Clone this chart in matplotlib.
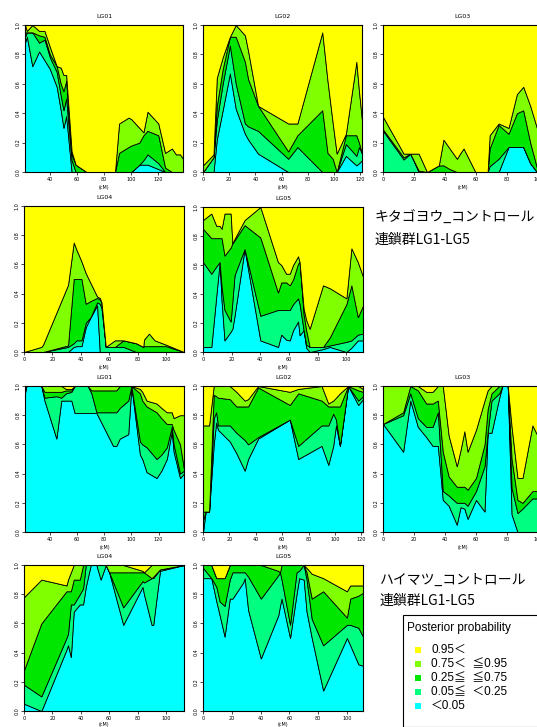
import matplotlib
matplotlib.use('Agg')
import matplotlib.pyplot as plt
from matplotlib.patches import Rectangle
import numpy as np

# layer colours, bottom to top: <0.05, 0.05-0.25, 0.25-0.75, 0.75-0.95, >0.95
COLORS = ['#00FFFF', '#00FF80', '#00E600', '#80FF00', '#FFFF00']
LEGEND_LABELS = ['0.95＜', '0.75＜  ≦0.95', '0.25≦  ≦0.75', '0.05≦  ＜0.25', '＜0.05']
LEGEND_COLORS = ['#FFFF00', '#80FF00', '#00E600', '#00FF80', '#00FFFF']

# --- キタゴヨウ (upper block) : cumulative boundaries b1..b4 ---
k1_x = [21.6, 23, 27, 32, 36, 40, 45, 48, 50, 52, 56, 59, 67, 88, 91, 98, 100, 106, 109, 112, 120, 125, 130, 133, 136, 138.2]
k1_b1 = [0.88, 0.92, 0.72, 0.82, 0.76, 0.70, 0.58, 0.42, 0.30, 0.38, 0, 0, 0, 0, 0, 0, 0, 0.05, 0.05, 0.05, 0.02, 0, 0, 0, 0, 0]
k1_b2 = [0.92, 0.95, 0.95, 0.88, 0.90, 0.78, 0.68, 0.52, 0.42, 0.50, 0.08, 0, 0, 0, 0, 0, 0, 0.05, 0.08, 0.12, 0.06, 0, 0, 0, 0, 0]
k1_b3 = [0.95, 0.95, 0.95, 0.93, 0.92, 0.80, 0.72, 0.60, 0.55, 0.62, 0.12, 0.05, 0, 0, 0.13, 0.17, 0.18, 0.20, 0.25, 0.28, 0.25, 0.03, 0, 0, 0, 0]
k1_b4 = [1.0, 0.96, 1.0, 0.96, 0.96, 0.85, 0.71, 0.71, 0.66, 0.66, 0.14, 0.05, 0, 0, 0.33, 0.37, 0.36, 0.30, 0.27, 0.41, 0.33, 0.13, 0.16, 0.12, 0.12, 0.09]

k2_x = [0, 8, 10.5, 15, 20.5, 25, 32, 34.5, 42, 65, 72, 91, 95, 99, 102, 109, 117, 119, 121.3]
k2_b1 = [0, 0, 0.22, 0.42, 0.67, 0.43, 0.26, 0.22, 0.125, 0, 0, 0, 0, 0, 0, 0.11, 0.045, 0.06, 0.08]
k2_b2 = [0, 0.10, 0.35, 0.60, 0.86, 0.60, 0.33, 0.31, 0.28, 0.09, 0.17, 0, 0, 0, 0, 0.19, 0.11, 0.17, 0.125]
k2_b3 = [0, 0.10, 0.45, 0.70, 0.92, 0.92, 0.75, 0.63, 0.45, 0.14, 0.25, 0.42, 0.13, 0.09, 0, 0.25, 0.25, 0.20, 0.10]
k2_b4 = [0.045, 0.12, 0.64, 0.78, 0.92, 1.0, 0.93, 0.82, 0.45, 0.33, 0.33, 0.95, 0.62, 0.33, 0.125, 0.26, 0.75, 0.55, 0.35]

k3_x = [0, 13.3, 17.6, 23, 28.4, 36, 39, 43, 47.7, 50, 52, 59.6, 67.5, 68.8, 74.6, 81, 86.4, 90.5, 95, 99.3, 102.6]
k3_b1 = [0, 0, 0, 0, 0, 0, 0, 0, 0, 0, 0, 0, 0, 0, 0, 0.17, 0.17, 0.17, 0.06, 0, 0]
k3_b2 = [0.28, 0.085, 0.125, 0, 0, 0, 0, 0, 0, 0, 0, 0, 0, 0.04, 0.09, 0.17, 0.17, 0.17, 0.06, 0, 0]
k3_b3 = [0.29, 0.10, 0.125, 0.01, 0, 0.045, 0.045, 0.02, 0, 0, 0, 0, 0, 0.16, 0.32, 0.26, 0.40, 0.42, 0.20, 0.03, 0]
k3_b4 = [0.375, 0.125, 0.125, 0.125, 0, 0.045, 0.22, 0.16, 0.09, 0.13, 0.16, 0, 0, 0.25, 0.33, 0.30, 0.53, 0.58, 0.45, 0.30, 0.25]

k4_x = [0, 12.2, 13.4, 31, 35, 37, 40.5, 43.5, 47, 51.5, 53.4, 54.6, 57.6, 64, 70, 79, 84, 84.5, 88, 92, 100, 112.7]
k4_b1 = [0, 0, 0, 0, 0.035, 0.04, 0.04, 0.17, 0.24, 0.32, 0, 0, 0, 0, 0, 0, 0, 0, 0, 0, 0, 0]
k4_b2 = [0, 0, 0, 0.035, 0.06, 0.08, 0.08, 0.20, 0.22, 0.34, 0.33, 0.30, 0.035, 0.035, 0.035, 0, 0, 0, 0, 0, 0, 0]
k4_b3 = [0, 0, 0, 0.045, 0.50, 0.50, 0.50, 0.33, 0.35, 0.37, 0.36, 0.34, 0.035, 0.035, 0.08, 0.06, 0.035, 0.04, 0.04, 0.04, 0.04, 0]
k4_b4 = [0, 0.035, 0.05, 0.46, 0.75, 0.70, 0.62, 0.54, 0.47, 0.38, 0.37, 0.34, 0.035, 0.08, 0.08, 0.06, 0.035, 0.085, 0.126, 0.08, 0.05, 0]

k5_x = [0, 5.8, 9.3, 11.6, 13, 15, 19.3, 20.5, 22, 29, 40, 52.3, 54.6, 58, 60.5, 62.8, 66.3, 67.4, 70.2, 72, 74.4, 83.7, 88.4, 100, 103.5, 108, 111.6]
k5_b1 = [0.035, 0.035, 0.39, 0.62, 0.35, 0.08, 0.14, 0.16, 0.25, 0.71, 0.08, 0.035, 0.12, 0.085, 0.08, 0.15, 0.21, 0.115, 0.15, 0.03, 0, 0.02, 0.035, 0, 0.03, 0.08, 0.08]
k5_b2 = [0.62, 0.54, 0.59, 0.62, 0.45, 0.29, 0.21, 0.35, 0.53, 0.71, 0.25, 0.29, 0.29, 0.29, 0.29, 0.33, 0.37, 0.33, 0.15, 0.05, 0.035, 0.035, 0.045, 0.07, 0.08, 0.12, 0.126]
k5_b3 = [0.85, 0.785, 0.785, 0.785, 0.785, 0.665, 0.72, 0.75, 0.77, 0.875, 0.79, 0.41, 0.48, 0.48, 0.46, 0.50, 0.61, 0.62, 0.26, 0.15, 0.035, 0.035, 0.10, 0.33, 0.46, 0.24, 0.32]
k5_b4 = [0.91, 0.955, 0.87, 0.87, 0.85, 0.955, 0.955, 0.75, 0.78, 0.91, 1.0, 0.62, 0.60, 0.54, 0.54, 0.60, 0.66, 0.62, 0.30, 0.22, 0.16, 0.46, 0.44, 0.37, 0.715, 0.62, 0.52]

# --- ハイマツ (lower block) ---
h1_x = [22, 23, 34, 36.3, 45, 48.6, 52, 56, 58.4, 68, 70.7, 74.4, 86.6, 89, 91.5, 97.7, 100, 106.3, 108, 111.2, 118.5, 122, 126, 129.6, 131, 135.7, 138.6]
h1_b1 = [0.95, 1.0, 1.0, 0.90, 0.64, 0.90, 0.90, 0.90, 0.815, 0.815, 0.815, 0.815, 0.59, 0.59, 0.64, 0.67, 1.0, 0.53, 0.50, 0.41, 0.37, 0.42, 0.50, 0.69, 0.55, 0.37, 0.40]
h1_b2 = [0.97, 1.0, 1.0, 0.92, 0.93, 0.92, 0.95, 0.96, 1.0, 1.0, 0.95, 0.82, 0.82, 0.82, 0.85, 0.90, 1.0, 0.62, 0.60, 0.58, 0.50, 0.53, 0.58, 0.72, 0.60, 0.40, 0.42]
h1_b3 = [0.98, 1.0, 1.0, 0.96, 0.96, 0.96, 0.97, 0.97, 1.0, 1.0, 0.97, 0.97, 0.97, 0.97, 1.0, 1.0, 1.0, 0.95, 0.90, 0.86, 0.82, 0.78, 0.74, 0.74, 0.70, 0.60, 0.43]
h1_b4 = [1.0, 1.0, 1.0, 1.0, 1.0, 1.0, 0.98, 0.98, 1.0, 1.0, 1.0, 1.0, 1.0, 1.0, 1.0, 1.0, 1.0, 0.98, 0.96, 0.90, 0.88, 0.85, 0.82, 0.82, 0.78, 0.80, 0.80]

h2_x = [0, 2, 4.6, 8.1, 10, 11.4, 20.3, 25.3, 31.6, 34.2, 41.8, 65.8, 72.2, 89.9, 95, 98.7, 100.8, 103.8, 110, 117.7, 121.3]
h2_b1 = [0, 0.14, 0.14, 0.60, 0.75, 0.70, 0.62, 0.54, 0.42, 0.50, 0.64, 0.77, 0.50, 0.59, 0.46, 0.59, 0.73, 0.59, 1.0, 0.87, 0.91]
h2_b2 = [0.08, 0.14, 0.14, 0.78, 0.82, 0.73, 0.73, 0.68, 0.63, 0.60, 0.65, 0.77, 0.59, 0.73, 0.73, 0.81, 0.77, 0.59, 1.0, 0.90, 0.93]
h2_b3 = [0.14, 0.14, 0.14, 0.94, 0.93, 0.92, 0.91, 0.86, 0.86, 0.86, 0.99, 0.87, 0.95, 0.90, 0.86, 0.86, 0.86, 0.86, 1.0, 0.97, 0.96]
h2_b4 = [0.73, 0.73, 0.73, 1.0, 1.0, 1.0, 1.0, 0.96, 0.90, 0.91, 1.0, 0.96, 0.98, 1.0, 0.88, 0.90, 0.92, 0.95, 1.0, 1.0, 0.98]

h3_x = [0, 13, 17.6, 22.5, 27.9, 32, 35.4, 38.6, 42.4, 47.6, 50, 52.5, 54.6, 60, 65.5, 67.5, 70, 75, 77, 80.5, 83, 86.8, 90, 96.4, 102.6]
h3_b1 = [0.74, 0.55, 0.90, 0.72, 0.65, 0.59, 0.59, 0.22, 0.18, 0.05, 0.17, 0.16, 0.09, 0.22, 0.14, 0.68, 0.68, 0.92, 1.0, 1.0, 0.12, 0, 0, 0, 0]
h3_b2 = [0.74, 0.80, 0.95, 0.78, 0.72, 0.72, 0.82, 0.28, 0.25, 0.20, 0.20, 0.20, 0.18, 0.28, 0.45, 0.68, 0.90, 0.95, 1.0, 1.0, 0.30, 0.13, 0.16, 0.23, 0.23]
h3_b3 = [0.74, 0.82, 1.0, 0.97, 0.88, 0.88, 0.90, 0.55, 0.38, 0.31, 0.31, 0.31, 0.29, 0.37, 0.60, 0.84, 0.95, 1.0, 1.0, 1.0, 0.50, 0.22, 0.20, 0.28, 0.28]
h3_b4 = [1.0, 1.0, 1.0, 1.0, 0.96, 0.96, 1.0, 1.0, 0.66, 0.45, 0.56, 0.69, 0.55, 0.70, 0.90, 0.97, 1.0, 1.0, 1.0, 1.0, 0.72, 0.37, 0.37, 0.73, 0.60]

h4_x = [0, 12.2, 29.9, 31, 33, 35, 39.3, 41.6, 43.5, 47, 51, 54, 57.6, 60, 69.9, 83.5, 84.5, 89.9, 91, 95.8, 112.7]
h4_b1 = [0.05, 0, 0.42, 0.45, 0.37, 0.68, 0.73, 0.73, 0.85, 1.0, 1.0, 0.90, 1.0, 0.95, 0.59, 0.85, 0.80, 0.59, 0.59, 0.96, 1.0]
h4_b2 = [0.18, 0.10, 0.50, 0.53, 0.73, 0.73, 0.80, 0.84, 1.0, 1.0, 1.0, 1.0, 1.0, 0.95, 0.71, 0.89, 0.88, 0.91, 0.91, 0.97, 1.0]
h4_b3 = [0.28, 0.60, 0.82, 0.82, 0.82, 0.90, 0.90, 1.0, 1.0, 1.0, 1.0, 1.0, 1.0, 0.95, 0.95, 0.95, 0.95, 0.91, 0.92, 0.97, 1.0]
h4_b4 = [0.78, 0.90, 0.86, 0.90, 0.95, 1.0, 1.0, 1.0, 1.0, 1.0, 1.0, 1.0, 1.0, 1.0, 1.0, 0.96, 0.95, 1.0, 1.0, 1.0, 1.0]

h5_x = [0, 5.8, 9.3, 11.6, 15, 18.6, 20.5, 27.9, 29, 31.4, 40.2, 52.3, 53.5, 54.6, 60.5, 65, 66.8, 70, 72, 75.6, 83.5, 100, 102.3, 108, 111.2]
h5_b1 = [0.91, 0.91, 0.75, 0.655, 0.51, 0.77, 0.77, 0.88, 0.91, 0.69, 0.36, 0.655, 0.72, 0.77, 0.50, 0.80, 0.91, 0.90, 0.68, 0.50, 0.14, 0.50, 0.45, 0.32, 0.31]
h5_b2 = [0.98, 0.91, 0.85, 0.75, 0.72, 0.90, 0.95, 0.95, 0.95, 0.92, 0.77, 0.93, 0.95, 0.90, 0.59, 0.95, 0.96, 1.0, 0.90, 0.63, 0.45, 0.59, 0.59, 0.57, 0.51]
h5_b3 = [1.0, 1.0, 0.91, 0.91, 0.91, 1.0, 1.0, 1.0, 1.0, 1.0, 1.0, 0.96, 0.95, 1.0, 1.0, 1.0, 1.0, 1.0, 0.95, 0.77, 0.82, 0.64, 0.77, 0.79, 0.81]
h5_b4 = [1.0, 1.0, 0.91, 0.91, 0.91, 1.0, 1.0, 1.0, 1.0, 1.0, 1.0, 1.0, 1.0, 1.0, 1.0, 1.0, 1.0, 1.0, 0.98, 0.94, 0.91, 0.82, 0.86, 0.86, 0.86]

W, H = 537, 727
fig = plt.figure(figsize=(W / 100, H / 100), dpi=100)
fig.patch.set_facecolor('white')


def px_axes(left, top, right, bottom):
    return fig.add_axes([left / W, 1 - bottom / H, (right - left) / W, (bottom - top) / H])


def panel(box, title, x, b1, b2, b3, b4, xlabelpad=2):
    ax = px_axes(*box)
    x = np.asarray(x, dtype=float)
    lo = np.zeros_like(x)
    bounds = [lo]
    for b in (b1, b2, b3, b4):
        lo = np.maximum(lo, np.asarray(b, dtype=float))
        bounds.append(lo)
    bounds.append(np.ones_like(x))
    for i in range(5):
        ax.fill_between(x, bounds[i], bounds[i + 1], facecolor=COLORS[i],
                        edgecolor='black', linewidth=0.6)
    ticks = [t for t in range(0, 141, 20) if x[0] <= t <= x[-1]]
    ax.set_xticks(ticks)
    ax.set_yticks([0, 0.2, 0.4, 0.6, 0.8, 1.0])
    ax.set_yticklabels(['0.0', '0.2', '0.4', '0.6', '0.8', '1.0'], rotation=90, va='center')
    ax.set_xlim(x[0], x[-1])
    ax.set_ylim(0, 1)
    ax.tick_params(labelsize=3.5, length=2, width=0.5, pad=1.5)
    for s in ax.spines.values():
        s.set_linewidth(0.8)
    ax.set_title(title, fontsize=4.5, pad=5)
    ax.set_xlabel('(cM)', fontsize=3.5, labelpad=xlabelpad)
    return ax


panel((25, 25, 183, 172), 'LG01', k1_x, k1_b1, k1_b2, k1_b3, k1_b4)
panel((203, 25, 362, 172), 'LG02', k2_x, k2_b1, k2_b2, k2_b3, k2_b4)
panel((383, 25, 542, 172), 'LG03', k3_x, k3_b1, k3_b2, k3_b3, k3_b4)
panel((24, 206, 184, 352), 'LG04', k4_x, k4_b1, k4_b2, k4_b3, k4_b4)
panel((203, 207, 363, 352), 'LG05', k5_x, k5_b1, k5_b2, k5_b3, k5_b4)

panel((25, 386, 184, 532), 'LG01', h1_x, h1_b1, h1_b2, h1_b3, h1_b4)
panel((203, 386, 363, 532), 'LG02', h2_x, h2_b1, h2_b2, h2_b3, h2_b4)
panel((383, 386, 542, 532), 'LG03', h3_x, h3_b1, h3_b2, h3_b3, h3_b4)
panel((24, 565, 184, 711), 'LG04', h4_x, h4_b1, h4_b2, h4_b3, h4_b4, xlabelpad=0.5)
panel((203, 565, 363, 711), 'LG05', h5_x, h5_b1, h5_b2, h5_b3, h5_b4, xlabelpad=0.5)

jp = ['Noto Sans CJK JP', 'DejaVu Sans']
fig.text(375 / W, 1 - 218 / H, 'キタゴヨウ_コントロール', family=jp, fontsize=10, va='center')
fig.text(375 / W, 1 - 240 / H, '連鎖群LG1-LG5', family=jp, fontsize=10, va='center')
fig.text(380 / W, 1 - 580 / H, 'ハイマツ_コントロール', family=jp, fontsize=10, va='center')
fig.text(380 / W, 1 - 601 / H, '連鎖群LG1-LG5', family=jp, fontsize=10, va='center')

# legend box
lg = ['Liberation Sans', 'Noto Sans CJK JP']
fig.patches.append(Rectangle((403 / W, 0), 140 / W, 1 - 615 / H, transform=fig.transFigure,
                             facecolor='white', edgecolor='black', linewidth=0.8))
fig.text(407 / W, 1 - 628 / H, 'Posterior probability', family=lg, fontsize=8.5, va='center')
for i, (lab, col) in enumerate(zip(LEGEND_LABELS, LEGEND_COLORS)):
    yc = 650 + i * 14
    fig.patches.append(Rectangle((415 / W, 1 - (yc + 3) / H), 6 / W, 6 / H,
                                 transform=fig.transFigure, facecolor=col, edgecolor='none'))
    fig.text(431 / W, 1 - yc / H, lab, family=lg, fontsize=8.5, va='center')

fig.savefig('out.png', dpi=100)
